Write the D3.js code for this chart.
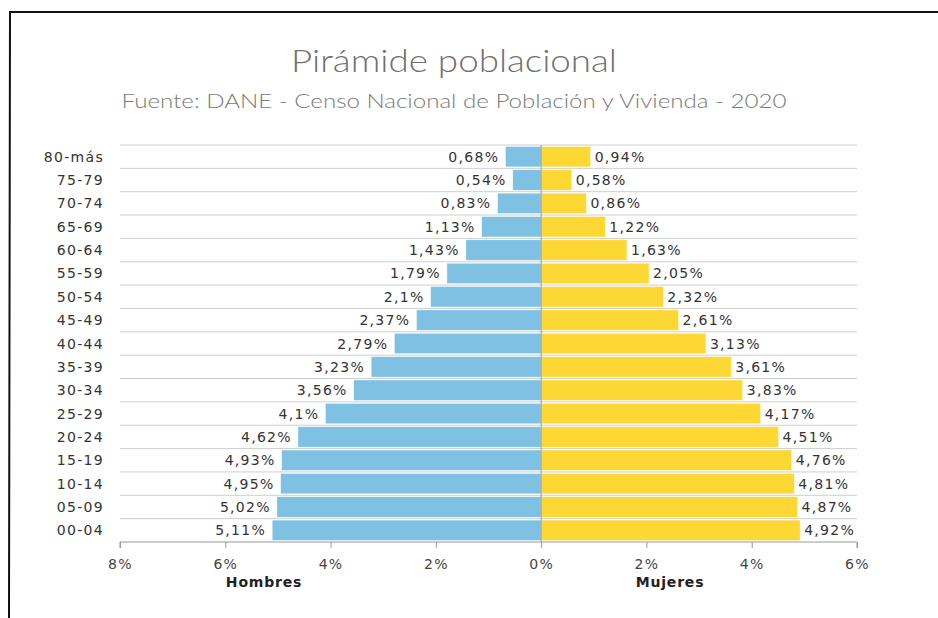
<!DOCTYPE html>
<html>
<head>
<meta charset="utf-8">
<script src="https://cdn.jsdelivr.net/npm/d3@7"></script>
<style>
  body { margin: 0; background: #fff; }
  text { font-family: "DejaVu Sans", Verdana, sans-serif; }
</style>
</head>
<body>
<div id="chart"></div>
<script>
  "use strict";

  var ageGroups = ["80-más", "75-79", "70-74", "65-69", "60-64", "55-59", "50-54", "45-49",
    "40-44", "35-39", "30-34", "25-29", "20-24", "15-19", "10-14", "05-09", "00-04"];
  var hombres = [0.68, 0.54, 0.83, 1.13, 1.43, 1.79, 2.1, 2.37, 2.79, 3.23, 3.56, 4.1, 4.62, 4.93, 4.95, 5.02, 5.11];
  var mujeres = [0.94, 0.58, 0.86, 1.22, 1.63, 2.05, 2.32, 2.61, 3.13, 3.61, 3.83, 4.17, 4.51, 4.76, 4.81, 4.87, 4.92];
  var tickValues = [-8, -6, -4, -2, 0, 2, 4, 6];

  var width = 938, height = 618;

  var svg = d3.select("#chart").append("svg")
    .attr("width", width)
    .attr("height", height);

  // frame (only top and left edges show in the photo)
  svg.append("path")
    .attr("d", "M9,618 L10,12 L938,12")
    .attr("fill", "none")
    .attr("stroke", "#111")
    .attr("stroke-width", 2);

  svg.append("text")
    .attr("x", 454).attr("y", 72)
    .attr("text-anchor", "middle")
    .style("font-family", "Lato, 'Open Sans', sans-serif")
    .style("font-weight", 300)
    .attr("font-size", 31)
    .attr("fill", "#707070")
    .attr("textLength", 326)
    .attr("lengthAdjust", "spacingAndGlyphs")
    .text("Pirámide poblacional");

  svg.append("text")
    .attr("x", 454).attr("y", 108)
    .attr("text-anchor", "middle")
    .style("font-family", "Lato, 'Open Sans', sans-serif")
    .style("font-weight", 300)
    .attr("font-size", 20)
    .attr("fill", "#7a7a7a")
    .attr("textLength", 665)
    .attr("lengthAdjust", "spacingAndGlyphs")
    .text("Fuente: DANE - Censo Nacional de Población y Vivienda - 2020");

  var x = d3.scaleLinear().domain([-8, 6]).range([120, 857]);
  var y = d3.scaleBand().domain(ageGroups).range([145, 542]).paddingInner(0.12).paddingOuter(0.06);
  var step = y.step();

  // gridlines between rows
  svg.append("g").selectAll("line")
    .data(ageGroups)
    .join("line")
    .attr("x1", x(-8)).attr("x2", x(6))
    .attr("y1", function(d) { return y(d) - y.paddingInner() * step / 2; })
    .attr("y2", function(d) { return y(d) - y.paddingInner() * step / 2; })
    .attr("stroke", "#cfcfcf");

  var fmt = function(v) { return String(v).replace(".", ",") + "%"; };

  svg.append("g").selectAll("rect")
    .data(hombres)
    .join("rect")
    .attr("x", function(d) { return x(-d); })
    .attr("y", function(d, i) { return y(ageGroups[i]); })
    .attr("width", function(d) { return x(0) - x(-d); })
    .attr("height", y.bandwidth())
    .attr("fill", "#7fc1e3")
    .attr("stroke", "#fff")
    .attr("stroke-width", 0.5);

  svg.append("g").selectAll("rect")
    .data(mujeres)
    .join("rect")
    .attr("x", x(0))
    .attr("y", function(d, i) { return y(ageGroups[i]); })
    .attr("width", function(d) { return x(d) - x(0); })
    .attr("height", y.bandwidth())
    .attr("fill", "#fdd835")
    .attr("stroke", "#fff")
    .attr("stroke-width", 0.5);

  var labelSize = 14, spacing = 1.3;

  svg.append("g").selectAll("text")
    .data(hombres)
    .join("text")
    .attr("x", function(d) { return x(-d) - 6; })
    .attr("y", function(d, i) { return y(ageGroups[i]) + y.bandwidth() / 2 + 5; })
    .attr("text-anchor", "end")
    .attr("font-size", labelSize)
    .attr("letter-spacing", spacing)
    .attr("fill", "#333")
    .text(fmt);

  svg.append("g").selectAll("text")
    .data(mujeres)
    .join("text")
    .attr("x", function(d) { return x(d) + 4; })
    .attr("y", function(d, i) { return y(ageGroups[i]) + y.bandwidth() / 2 + 5; })
    .attr("text-anchor", "start")
    .attr("font-size", labelSize)
    .attr("letter-spacing", spacing)
    .attr("fill", "#333")
    .text(fmt);

  // zero line
  svg.append("line")
    .attr("x1", x(0)).attr("x2", x(0))
    .attr("y1", 145).attr("y2", 542)
    .attr("stroke", "#999");

  // category labels
  svg.append("g").selectAll("text")
    .data(ageGroups)
    .join("text")
    .attr("x", 104)
    .attr("y", function(d) { return y(d) + y.bandwidth() / 2 + 5; })
    .attr("text-anchor", "end")
    .attr("font-size", labelSize)
    .attr("letter-spacing", spacing)
    .attr("fill", "#333")
    .text(function(d) { return d; });

  var xAxis = d3.axisBottom(x)
    .tickValues(tickValues)
    .tickSize(6)
    .tickFormat(function(d) { return Math.abs(d) + "%"; });

  var ax = svg.append("g")
    .attr("transform", "translate(0,542)")
    .call(xAxis);
  ax.select(".domain").attr("stroke", "#999").attr("d", "M" + x(-8) + ",6V0H" + x(6) + "V6");
  ax.selectAll(".tick line").attr("stroke", "#999");
  ax.selectAll(".tick text")
    .attr("y", 17)
    .attr("font-size", labelSize)
    .attr("letter-spacing", spacing)
    .attr("font-family", "DejaVu Sans, sans-serif")
    .attr("fill", "#444");

  svg.append("text")
    .attr("x", 264).attr("y", 587)
    .attr("text-anchor", "middle")
    .attr("font-size", labelSize)
    .attr("letter-spacing", 0.8)
    .attr("font-weight", "bold")
    .attr("fill", "#222")
    .text("Hombres");

  svg.append("text")
    .attr("x", 670).attr("y", 587)
    .attr("text-anchor", "middle")
    .attr("font-size", labelSize)
    .attr("letter-spacing", 0.8)
    .attr("font-weight", "bold")
    .attr("fill", "#222")
    .text("Mujeres");
</script>
</body>
</html>
